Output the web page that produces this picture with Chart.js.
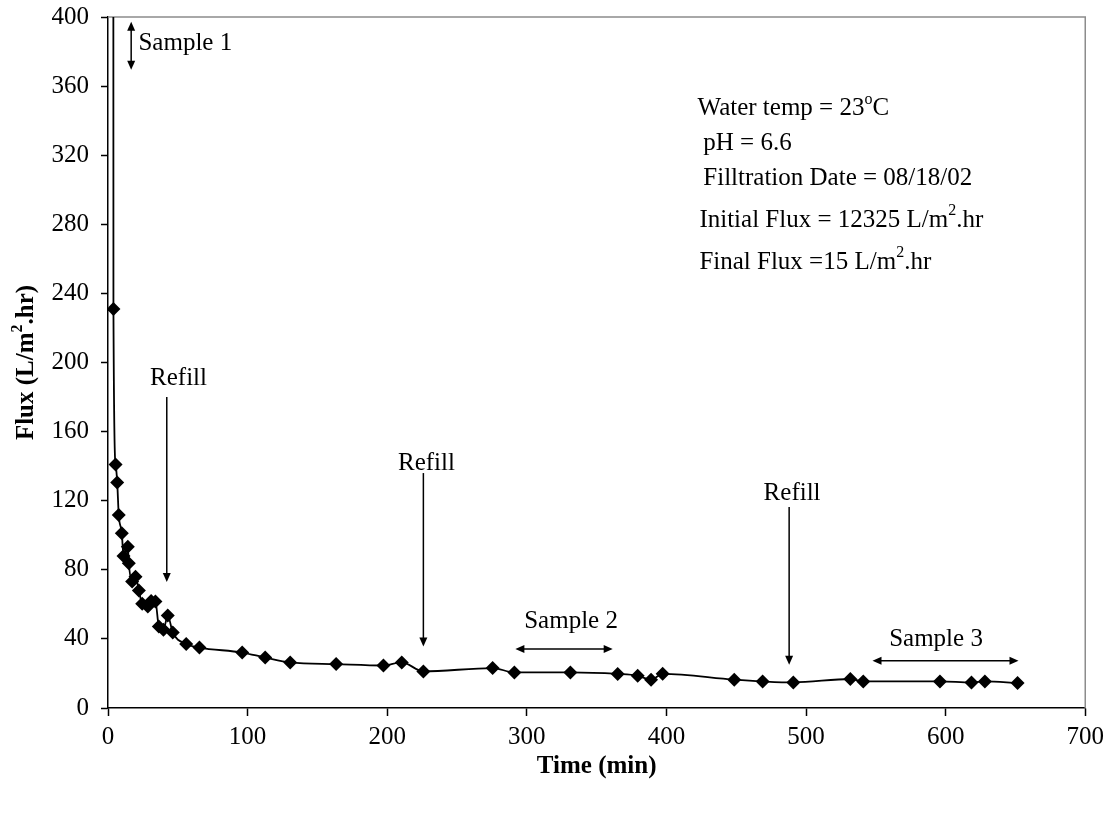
<!DOCTYPE html>
<html>
<head>
<meta charset="utf-8">
<script src="https://cdn.jsdelivr.net/npm/chart.js@4/dist/chart.umd.min.js"></script>
<style>
  html, body { margin: 0; padding: 0; background: #fff; }
  #wrap { width: 1110px; height: 815px; }
</style>
</head>
<body>
<div id="wrap"><canvas id="fluxChart" width="1110" height="815"></canvas></div>
<script>
// time (min) and flux (L/m2.hr)
const timeMin = [0, 3.9, 5.4, 6.6, 7.7, 9.9, 11.1, 14.2, 14.9, 17.3, 19.7, 22.1, 24.5, 28.5, 30.9, 34.0,
    36.4, 39.7, 42.8, 46.4, 56.0, 65.5, 96.1, 112.6, 130.5, 163.4, 197.3, 210.4, 225.9, 275.5, 291.1,
    331.2, 365.1, 379.4, 389.0, 397.3, 448.6, 468.9, 490.9, 531.7, 541.0, 595.9, 618.5, 628.1, 651.5];
const flux = [12325, 231, 141, 130.6, 111.7, 101.2, 88, 93.4, 83.8, 73.2, 76, 68, 60.3, 58.7, 62, 61.6,
    47.2, 45.3, 53.5, 43.7, 37, 35, 32.1, 29.2, 26.4, 25.4, 24.6, 26.4, 21.2, 23.1, 20.6,
    20.6, 19.7, 18.7, 16.4, 19.8, 16.4, 15.4, 14.8, 16.8, 15.4, 15.4, 14.8, 15.4, 14.5];

const xTicks = [0, 100, 200, 300, 400, 500, 600, 700];
const yTicks = [0, 40, 80, 120, 160, 200, 240, 280, 320, 360, 400];

// notes placed in data units
const refillArrows = [
    { t: 42.1, from: 180, to: 73, labelT: 50.5, labelY: 191 },
    { t: 225.9, from: 136, to: 35.6, labelT: 228.1, labelY: 141.6 },
    { t: 487.9, from: 116.4, to: 25, labelT: 490, labelY: 124.3 }
];
const sampleSpans = [
    { text: 'Sample 2', t1: 291.8, t2: 361.5, y: 34.1, labelT: 331.7, labelY: 50 },
    { text: 'Sample 3', t1: 547.6, t2: 652.2, y: 27.3, labelT: 593.1, labelY: 39.5 }
];
const infoLines = [
    { t: 422.3, y: 346.8, parts: [['Water temp = 23'], ['o', true], ['C']] },
    { t: 426.4, y: 326.8, parts: [['pH = 6.6']] },
    { t: 426.4, y: 306.6, parts: [['Filltration Date = 08/18/02']] },
    { t: 423.6, y: 282.3, parts: [['Initial Flux = 12325 L/m'], ['2', true], ['.hr']] },
    { t: 423.6, y: 258.2, parts: [['Final Flux =15 L/m'], ['2', true], ['.hr']] }
];

const SERIF = "'Liberation Serif', 'Times New Roman', serif";
const FS = 25;

function drawRich(ctx, parts, x, y, align, bold) {
    const w = bold ? 'bold ' : '';
    let total = 0;
    parts.forEach(p => {
        ctx.font = w + (p[1] ? Math.round(FS * 0.62) : FS) + 'px ' + SERIF;
        total += ctx.measureText(p[0]).width;
    });
    let cx = align === 'center' ? x - total / 2 : x;
    ctx.textAlign = 'left';
    ctx.textBaseline = 'middle';
    parts.forEach(p => {
        ctx.font = w + (p[1] ? Math.round(FS * 0.62) : FS) + 'px ' + SERIF;
        ctx.fillText(p[0], cx, p[1] ? y - FS * 0.38 : y);
        cx += ctx.measureText(p[0]).width;
    });
}

function arrowHead(ctx, x, y, dir) {
    // dir: 'up', 'down', 'left', 'right'
    const L = 9, W = 4;
    ctx.beginPath();
    if (dir === 'down') { ctx.moveTo(x, y); ctx.lineTo(x - W, y - L); ctx.lineTo(x + W, y - L); }
    if (dir === 'up') { ctx.moveTo(x, y); ctx.lineTo(x - W, y + L); ctx.lineTo(x + W, y + L); }
    if (dir === 'left') { ctx.moveTo(x, y); ctx.lineTo(x + L, y - W); ctx.lineTo(x + L, y + W); }
    if (dir === 'right') { ctx.moveTo(x, y); ctx.lineTo(x - L, y - W); ctx.lineTo(x - L, y + W); }
    ctx.closePath();
    ctx.fill();
}

const notesPlugin = {
    id: 'notes',
    beforeDatasetsDraw(chart) {
        const { ctx, chartArea: a } = chart;
        ctx.save();
        ctx.strokeStyle = '#8c8c8c';
        ctx.lineWidth = 1.5;
        ctx.beginPath();
        ctx.moveTo(a.left, a.top);
        ctx.lineTo(a.right, a.top);
        ctx.lineTo(a.right, a.bottom);
        ctx.stroke();
        ctx.restore();
    },
    afterDraw(chart) {
        const { ctx, chartArea: a } = chart;
        const xs = chart.scales.x, ys = chart.scales.y;
        const px = v => xs.getPixelForValue(v);
        const py = v => ys.getPixelForValue(v);
        ctx.save();
        ctx.fillStyle = '#000';
        ctx.strokeStyle = '#000';
        ctx.lineWidth = 1.5;

        // Sample 1 vertical double arrow
        const s1x = px(16.6);
        ctx.beginPath();
        ctx.moveTo(s1x, py(397.3) + 3);
        ctx.lineTo(s1x, py(369.5) - 3);
        ctx.stroke();
        arrowHead(ctx, s1x, py(397.3), 'up');
        arrowHead(ctx, s1x, py(369.5), 'down');
        drawRich(ctx, [['Sample 1']], px(21.8), py(384.6), 'left');

        refillArrows.forEach(r => {
            const x = px(r.t);
            ctx.beginPath();
            ctx.moveTo(x, py(r.from));
            ctx.lineTo(x, py(r.to) - 4);
            ctx.stroke();
            arrowHead(ctx, x, py(r.to), 'down');
            drawRich(ctx, [['Refill']], px(r.labelT), py(r.labelY), 'center');
        });

        sampleSpans.forEach(s => {
            const y = py(s.y);
            ctx.beginPath();
            ctx.moveTo(px(s.t1) + 3, y);
            ctx.lineTo(px(s.t2) - 3, y);
            ctx.stroke();
            arrowHead(ctx, px(s.t1), y, 'left');
            arrowHead(ctx, px(s.t2), y, 'right');
            drawRich(ctx, [[s.text]], px(s.labelT), py(s.labelY), 'center');
        });

        infoLines.forEach(l => drawRich(ctx, l.parts, px(l.t), py(l.y), 'left'));

        // axis titles
        drawRich(ctx, [['Time (min)']], (a.left + a.right) / 2, 767, 'center', true);
        ctx.save();
        ctx.translate(27, (a.top + a.bottom) / 2);
        ctx.rotate(-Math.PI / 2);
        drawRich(ctx, [['Flux (L/m'], ['2', true], ['.hr)']], 0, 0, 'center', true);
        ctx.restore();
        ctx.restore();
    }
};

const ctx = document.getElementById('fluxChart').getContext('2d');

const fluxChart = new Chart(ctx, {
    type: 'scatter',
    data: {
        datasets: [{
            label: 'Flux',
            data: timeMin.map((t, i) => ({ x: t, y: flux[i] })),
            showLine: true,
            borderColor: '#000',
            borderWidth: 1.8,
            backgroundColor: '#000',
            pointStyle: 'rectRot',
            pointRadius: 7,
            pointBorderWidth: 0,
            pointBackgroundColor: '#000',
            cubicInterpolationMode: 'monotone'
        }]
    },
    options: {
        responsive: false,
        animation: false,
        devicePixelRatio: 1,
        layout: { padding: { top: 17, right: 24, left: 0, bottom: 0 } },
        plugins: {
            legend: { display: false },
            tooltip: { enabled: false }
        },
        scales: {
            x: {
                type: 'linear',
                min: 0,
                max: 700,
                afterBuildTicks: s => { s.ticks = xTicks.map(v => ({ value: v })); },
                afterFit: s => { s.height = 107; },
                grid: { drawOnChartArea: false, drawTicks: true, tickLength: 8, tickColor: '#000', tickWidth: 1.5 },
                border: { color: '#000', width: 1.5 },
                ticks: { color: '#000', padding: 6, maxRotation: 0, font: { family: SERIF, size: FS } }
            },
            y: {
                min: 0,
                max: 400,
                afterBuildTicks: s => { s.ticks = yTicks.map(v => ({ value: v })); },
                afterFit: s => { s.width = 108; s.paddingTop = 0; s.paddingBottom = 0; },
                grid: { drawOnChartArea: false, drawTicks: true, tickLength: 7, tickColor: '#000', tickWidth: 1.5 },
                border: { color: '#000', width: 1.5 },
                ticks: { color: '#000', padding: 12, font: { family: SERIF, size: FS } }
            }
        }
    },
    plugins: [notesPlugin]
});
</script>
</body>
</html>
